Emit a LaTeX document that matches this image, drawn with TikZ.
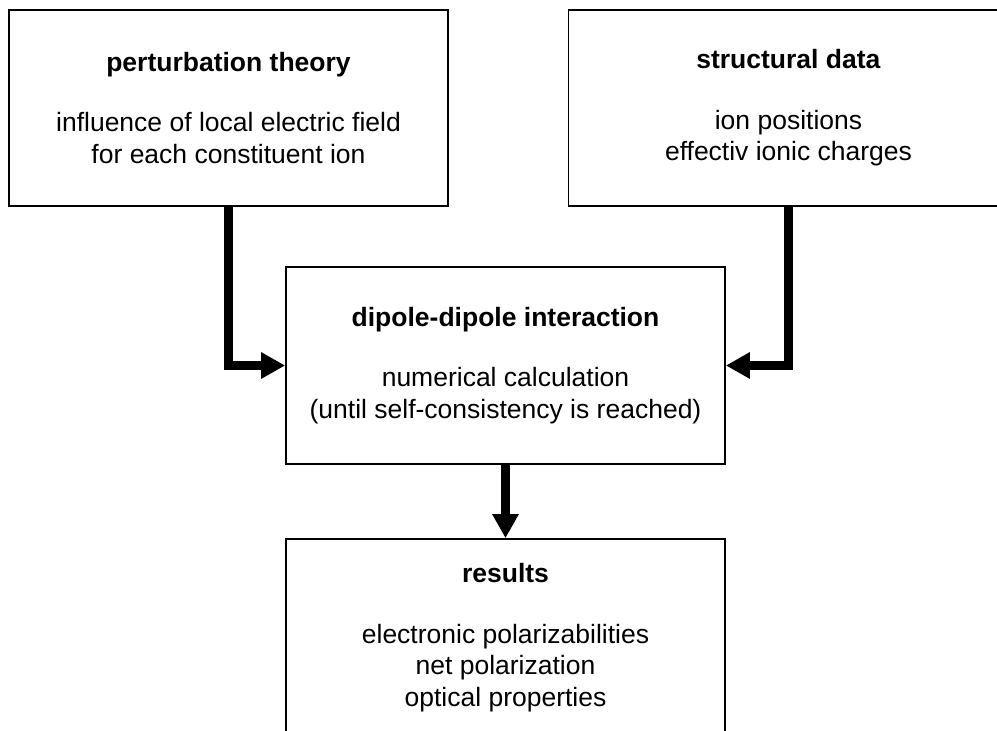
\documentclass[tikz,border=0pt]{standalone}
\usepackage{fontspec}
\setmainfont{Liberation Sans}
\usetikzlibrary{arrows.meta}

\begin{document}
\begin{tikzpicture}[x=1pt,y=-1pt,
  stagebox/.style={draw=black, line width=1.7pt, fill=white, rectangle,
    minimum width=439pt, minimum height=196pt, align=center,
    font=\fontsize{26.5}{31.5}\selectfont},
  flow/.style={line width=8.5pt, -{Triangle[length=24pt,width=25pt]}}
]
  % page frame
  \useasboundingbox (0,0) rectangle (997,731);
  \clip (0,0) rectangle (997,731);

  % input stages
  \node[stagebox] (pert) at (228.5,108)
    {\textbf{perturbation theory}\\[29pt]
     influence of local electric field\\
     for each constituent ion};
  \node[stagebox, minimum width=440pt] (struct) at (788.5,108)
    {\textbf{structural data}\\[29pt]
     ion positions\\
     effectiv ionic charges};

  % computation stage
  \node[stagebox, minimum height=197pt] (dipole) at (505.5,365.5)
    {\textbf{dipole-dipole interaction}\\[29pt]
     numerical calculation\\
     (until self-consistency is reached)};

  % output stage
  \node[stagebox, minimum height=197pt] (res) at (505.5,637.5)
    {\textbf{results}\\[29pt]
     electronic polarizabilities\\
     net polarization\\
     optical properties};

  % data flow
  \draw[flow] (pert.south) |- (dipole.west);
  \draw[flow] (struct.south) |- (dipole.east);
  \draw[flow] (dipole.south) -- (res.north);
\end{tikzpicture}
\end{document}
